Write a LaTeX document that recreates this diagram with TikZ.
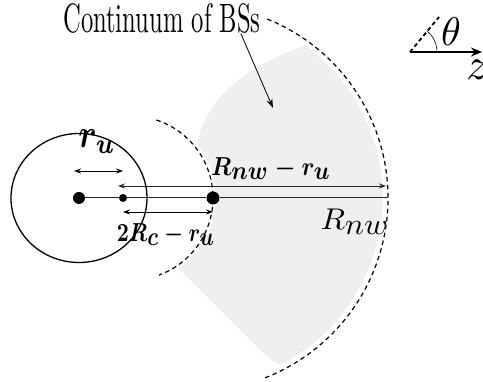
\documentclass[tikz,border=0pt]{standalone}
\usepackage{graphicx}
\usetikzlibrary{arrows.meta}
\definecolor{bsgray}{RGB}{239,239,239}
\begin{document}
\begin{tikzpicture}[x=1pt,y=1pt,
  dashcurve/.style={dash pattern=on 4.5pt off 3.5pt, line width=1.2pt},
  dimarrow/.style={line width=0.9pt, {Stealth[length=7pt,width=5pt]}-{Stealth[length=7pt,width=5pt]}},
  dotnode/.style={circle, fill=black, inner sep=0pt, minimum size=#1},
  lbl/.style={inner sep=0pt},
  axisline/.style={line width=1.8pt}]
\useasboundingbox (0,0) rectangle (483,382);
% shaded region of BSs
\fill[bsgray] (307,337) .. controls (250,318) and (205,285) .. (197,237.5)
  arc[start angle=39,end angle=-40,radius=85] -- (178,114) -- (250,42)
  .. controls (262,30) and (270,22) .. (280,17)
  arc[start angle=-63,end angle=54,radius=188] -- cycle;
% dashed arcs
\draw[dashcurve] (131,184) ++(72:82) arc[start angle=72,end angle=-70,radius=82];
\draw[dashcurve] (195,184) ++(68:193) arc[start angle=68,end angle=-69,radius=193];
% user disc
\draw[line width=1.3pt] (79,184) ellipse[x radius=68, y radius=64.5];
% dots
\node[dotnode=12pt] (u0) at (79,184) {};
\node[dotnode=8pt] (u1) at (123,184) {};
\node[dotnode=13pt] (u2) at (213,184) {};
\coordinate (rend) at (388,184);
\draw[line width=1pt, black!85] (u0) -- (u1);
\draw[line width=1pt, black!85] (u1) -- (u2);
\draw[line width=1pt, black!85] (u2) -- (rend);
% dimension arrows
\coordinate (a1) at (74,211); \coordinate (a2) at (123,211);
\draw[dimarrow] (a1) -- (a2);
\coordinate (b1) at (118,196); \coordinate (b2) at (386,196);
\draw[dimarrow, black!85] (b1) -- (b2);
\coordinate (c1) at (123,170); \coordinate (c2) at (213,170);
\draw[dimarrow] (c1) -- (c2);
% labels
\node[lbl] (lru) at (97,240) {\scalebox{3.3}[4]{\boldmath$r_u$}};
\node[lbl] (lrnwru) at (271,213) {\scalebox{2.32}[2.6]{\boldmath$R_{\textstyle nw}-r_{\textstyle u}$}};
\node[lbl] (lrnw) at (355,160) {\scalebox{3.2}[3]{$R_{\textstyle nw}$}};
\node[lbl] (l2rc) at (166,147) {\scalebox{2.1}[2.6]{\boldmath$2R_{\textstyle c}-r_{\textstyle u}$}};
% title
\node[inner sep=0pt] (cont) at (162,363.5) {\scalebox{2.46}[4.1]{Continuum of BSs}};
\coordinate (ctip) at (273,274);
\draw[line width=0.8pt, -{Stealth[length=9pt,width=6pt]}] ([xshift=-20pt]cont.south east) -- (ctip);
% angle indicator
\coordinate (o) at (410,330);
\coordinate (zend) at (482,330);
\coordinate (tend) at (439,365);
\draw[axisline, -{Stealth[length=11pt,width=9pt]}] (o) -- (zend);
\draw[axisline, dash pattern=on 4pt off 3pt] (o) -- (tend);
\draw[line width=0.6pt] (437,330) arc[start angle=0,end angle=50,radius=27];
\node[lbl] (th) at (451,350) {\scalebox{4}{$\theta$}};
\node[lbl, anchor=west] (zl) at (466,312) {\scalebox{4.5}{$z$}};
\end{tikzpicture}
\end{document}
